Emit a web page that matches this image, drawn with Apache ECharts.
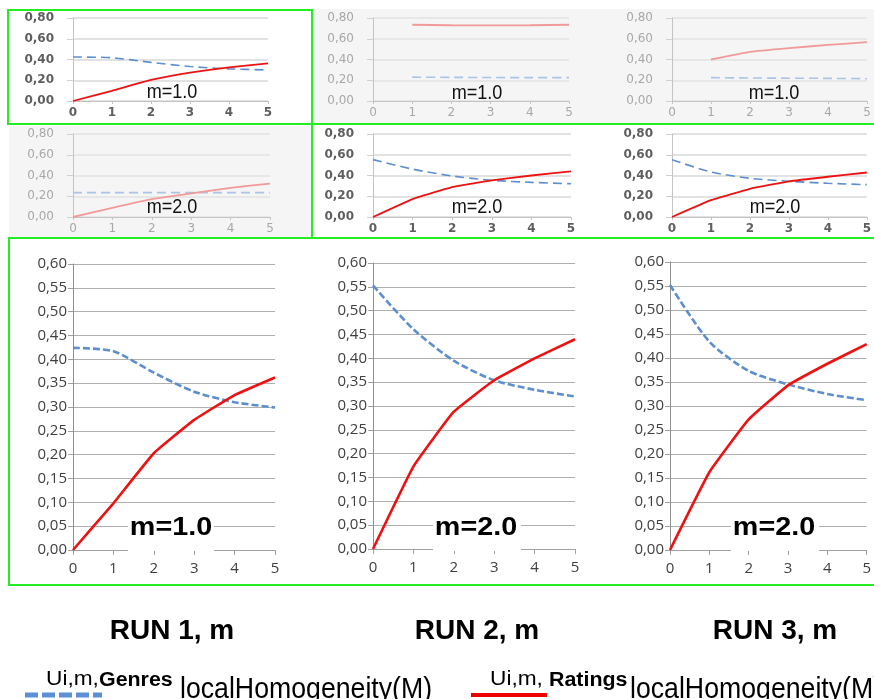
<!DOCTYPE html>
<html><head><meta charset="utf-8">
<script src="https://cdn.jsdelivr.net/npm/echarts@6/dist/echarts.min.js"></script>
<style>html,body{margin:0;padding:0;background:#fff}#c{width:874px;height:699px}</style>
</head><body><div id="c"></div>
<script>
// ---------- data ----------
const steps = [0, 1, 2, 3, 4, 5];
const smallYTicks = ['0,00', '0,20', '0,40', '0,60', '0,80'];
const bigYTicks = ['0,00','0,05','0,10','0,15','0,20','0,25','0,30','0,35','0,40','0,45','0,50','0,55','0,60'];

const run1_m1_genres  = [0.424, 0.417, 0.372, 0.332, 0.310, 0.299];
const run1_m1_ratings = [0.000, 0.098, 0.203, 0.273, 0.325, 0.362];
const run2_m1_genres  = [null, 0.230, 0.228, 0.226, 0.225, 0.225];
const run2_m1_ratings = [null, 0.735, 0.730, 0.728, 0.730, 0.735];
const run3_m1_genres  = [null, 0.225, 0.222, 0.220, 0.218, 0.215];
const run3_m1_ratings = [null, 0.400, 0.474, 0.510, 0.540, 0.568];
const run1_m2_genres  = [0.235, 0.235, 0.235, 0.235, 0.235, 0.235];
const run1_m2_ratings = [0.000, 0.088, 0.172, 0.227, 0.281, 0.322];
const run2_m2_genres  = [0.553, 0.461, 0.395, 0.354, 0.334, 0.320];
const run2_m2_ratings = [0.000, 0.173, 0.288, 0.354, 0.400, 0.440];
const run3_m2_genres  = [0.552, 0.434, 0.373, 0.345, 0.325, 0.312];
const run3_m2_ratings = [0.000, 0.162, 0.272, 0.343, 0.388, 0.429];

const panelLabels = ['m=1.0', 'm=2.0'];
const runTitles = ['RUN 1, m', 'RUN 2, m', 'RUN 3, m'];
const legendPrefix = 'Ui,m,';
const legendNames = ['Genres', 'Ratings'];
const legendSuffix = 'localHomogeneity(M)';

// ---------- builder ----------
const grids = [], xAxes = [], yAxes = [], series = [];
function pairs(arr) {
  return steps.map((s, i) => [s, arr[i]]).filter(p => p[1] !== null);
}
function fmt(v, ticks, step) {
  const i = Math.round(v / step);
  return ticks[i] !== undefined ? ticks[i] : '';
}
function panel(box, big, faded, genres, ratings) {
  const idx = grids.length;
  grids.push({left: box[0], top: box[1], width: box[2], height: box[3], containLabel: false});
  const labelColor = faded ? '#a8a8a8' : '#5f5f5f';
  const gridColor = big ? '#b0b0b0' : (faded ? '#e2e2e2' : '#d9d9d9');
  xAxes.push({
    type: 'value', gridIndex: idx, min: 0, max: 5, interval: 1,
    splitLine: {show: false},
    axisLine: {show: true, onZero: false, lineStyle: {color: big ? '#a0a0a0' : '#c4c4c4', width: 1}},
    axisTick: {show: true, length: big ? 5 : 3, lineStyle: {color: big ? '#a0a0a0' : '#c4c4c4'}},
    axisLabel: big
      ? {margin: 11, fontSize: 15, fontFamily: 'Open Sans', color: '#404040'}
      : {margin: 6, fontSize: 12, fontFamily: 'DejaVu Sans', color: labelColor, fontWeight: faded ? 'normal' : 'bold'}
  });
  const step = big ? 0.05 : 0.2;
  const ticks = big ? bigYTicks : smallYTicks;
  yAxes.push({
    type: 'value', gridIndex: idx, min: 0, max: big ? 0.6 : 0.8, interval: step,
    splitLine: {show: true, lineStyle: {color: gridColor, width: big ? 1 : 1.5}},
    axisLine: {show: true, lineStyle: {color: big ? '#909090' : '#c4c4c4', width: 1}},
    axisTick: {show: true, length: big ? 5 : 6, lineStyle: {color: big ? '#a0a0a0' : '#d0d0d0'}},
    axisLabel: big
      ? {margin: 6, fontSize: 15, fontFamily: 'Open Sans', color: '#404040', formatter: v => fmt(v, ticks, step)}
      : {margin: 19, fontSize: 12, fontFamily: 'DejaVu Sans', color: labelColor, fontWeight: faded ? 'normal' : 'bold', formatter: v => fmt(v, ticks, step)}
  });
  const blue = faded ? '#aac4e8' : '#5d8fcf';
  const red = faded ? '#f29a9a' : '#ee1111';
  series.push({
    type: 'line', xAxisIndex: idx, yAxisIndex: idx, data: pairs(genres),
    showSymbol: false, smooth: 0.25, silent: true,
    lineStyle: {color: blue, width: big ? 2.6 : 1.6, type: big ? [7, 3] : [9, 5]}
  });
  series.push({
    type: 'line', xAxisIndex: idx, yAxisIndex: idx, data: pairs(ratings),
    showSymbol: false, smooth: 0.1, silent: true,
    lineStyle: {color: red, width: big ? 2.6 : 1.8}
  });
}

panel([73, 18, 195, 83], false, false, run1_m1_genres, run1_m1_ratings);
panel([373, 18, 196, 83], false, true, run2_m1_genres, run2_m1_ratings);
panel([672, 18, 195, 83], false, true, run3_m1_genres, run3_m1_ratings);
panel([73, 134, 197, 83], false, true, run1_m2_genres, run1_m2_ratings);
panel([373, 134, 198, 83], false, false, run2_m2_genres, run2_m2_ratings);
panel([672, 134, 197, 83], false, false, run3_m2_genres, run3_m2_ratings);
panel([73, 264, 202, 286], true, false, run1_m1_genres, run1_m1_ratings);
panel([373, 263, 202, 286], true, false, run2_m2_genres, run2_m2_ratings);
panel([670, 262, 202, 288], true, false, run3_m2_genres, run3_m2_ratings);

// ---------- decorations ----------
const graphic = [];
graphic.push({type: 'rect', z: -1, shape: {x: 313, y: 9, width: 561, height: 114}, style: {fill: '#f5f5f5'}});
graphic.push({type: 'rect', z: -1, shape: {x: 9, y: 126, width: 302, height: 111}, style: {fill: '#f5f5f5'}});
const green = '#22ee22';
graphic.push({type: 'rect', z: 5, shape: {x: 8, y: 10, width: 304, height: 114}, style: {fill: 'none', stroke: green, lineWidth: 2}});
graphic.push({type: 'rect', z: 5, shape: {x: 312, y: 124, width: 570, height: 114}, style: {fill: 'none', stroke: green, lineWidth: 2}});
graphic.push({type: 'rect', z: 5, shape: {x: 9, y: 238, width: 873, height: 347}, style: {fill: 'none', stroke: green, lineWidth: 2}});

function smallLabel(cx, cy, t) {
  graphic.push({type: 'text', z: 4, x: cx, y: cy, scaleX: 0.86,
    style: {text: t, font: '21px "Liberation Sans"', fill: '#111', textAlign: 'center', textVerticalAlign: 'middle'}});
}
smallLabel(172, 92, panelLabels[0]);
smallLabel(477, 93, panelLabels[0]);
smallLabel(774, 93, panelLabels[0]);
smallLabel(172, 207, panelLabels[1]);
smallLabel(477, 207, panelLabels[1]);
smallLabel(775, 207, panelLabels[1]);

function bigLabel(x0, x1, cx, t) {
  graphic.push({type: 'rect', z: 1, shape: {x: x0, y: 507, width: x1 - x0, height: 44}, style: {fill: '#fff'}});
  graphic.push({type: 'text', z: 4, x: cx, y: 528, scaleX: 1.15,
    style: {text: t, font: 'bold 25px "Liberation Sans"', fill: '#000', textAlign: 'center', textVerticalAlign: 'middle'}});
}
bigLabel(128, 214, 171, panelLabels[0]);
bigLabel(433, 521, 476, panelLabels[1]);
bigLabel(731, 819, 774, panelLabels[1]);

[172, 477, 775].forEach((cx, i) => {
  graphic.push({type: 'text', z: 4, x: cx, y: 631,
    style: {text: runTitles[i], font: 'bold 28px "Liberation Sans"', fill: '#000', textAlign: 'center', textVerticalAlign: 'middle'}});
});

graphic.push({type: 'line', z: 4, shape: {x1: 25, y1: 695, x2: 102, y2: 695},
  style: {stroke: '#5b8fd6', lineWidth: 5, lineDash: [13, 4]}});
graphic.push({type: 'line', z: 4, shape: {x1: 471, y1: 695, x2: 547, y2: 695},
  style: {stroke: '#ee0000', lineWidth: 4}});
function legendText(x, name, nameX, sufX) {
  graphic.push({type: 'text', z: 4, x: x, y: 690, scaleX: 1.08,
    style: {text: legendPrefix, font: '21px "Liberation Sans"', fill: '#000', textAlign: 'left', textVerticalAlign: 'bottom'}});
  graphic.push({type: 'text', z: 4, x: nameX, y: 690, scaleX: 1.07,
    style: {text: name, font: 'bold 20px "Liberation Sans"', fill: '#000', textAlign: 'left', textVerticalAlign: 'bottom'}});
  graphic.push({type: 'text', z: 4, x: sufX, y: 704, scaleX: 0.92,
    style: {text: legendSuffix, font: '29px "Liberation Sans"', fill: '#000', textAlign: 'left', textVerticalAlign: 'bottom'}});
}
legendText(46, legendNames[0], 99, 180);
legendText(490, legendNames[1], 549, 630);

const chart = echarts.init(document.getElementById('c'), null, {renderer: 'canvas'});
chart.setOption({
  animation: false,
  backgroundColor: '#ffffff',
  grid: grids, xAxis: xAxes, yAxis: yAxes, series: series,
  graphic: graphic
});
</script>
</body></html>
